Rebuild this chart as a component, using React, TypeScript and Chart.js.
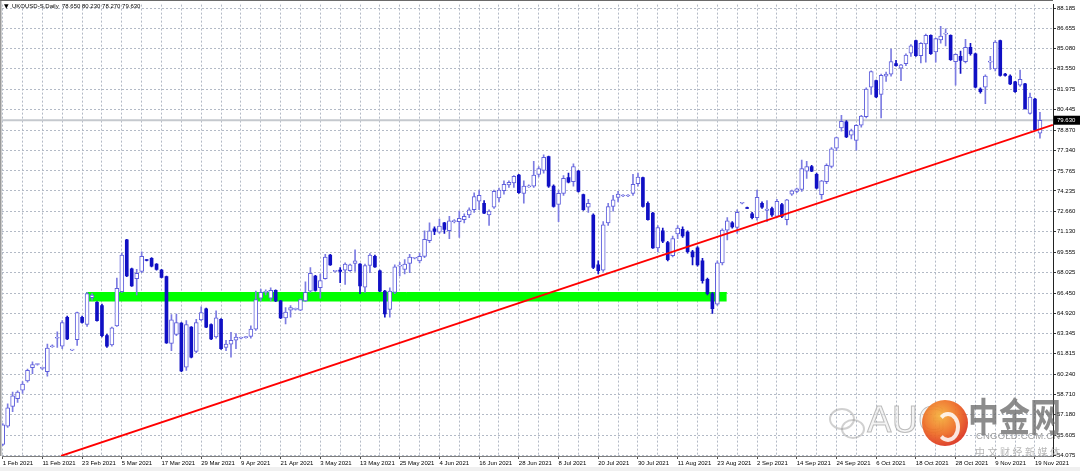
import React, { useEffect, useRef } from 'react';
import { Chart, registerables } from 'chart.js';

Chart.register(...registerables);

// ---- data (daily OHLC, bar 0 = 1 Feb 2021) ----
const opens: number[] = [
  54.9, 56.3, 57.8, 58.4, 59.05, 59.75, 60.75, 61.0, 60.7, 60.45,
  62.35, 63.0, 62.4, 64.6, 62.1, 62.9, 64.6, 64.05, 66.1, 65.75,
  65.5, 63.2, 62.5, 63.95, 66.55, 70.5, 68.3, 67.55, 68.1, 68.95,
  69.1, 68.65, 68.2, 67.7, 62.6, 63.3, 64.15, 60.8, 63.85, 62.0,
  64.4, 65.25, 64.05, 63.1, 64.45, 62.3, 62.55, 62.85, 63.0, 63.05,
  63.15, 63.7, 66.05, 66.5, 66.05, 66.65, 65.85, 64.55, 65.15, 65.2,
  65.15, 65.85, 66.6, 67.75, 66.85, 67.55, 69.35, 68.1, 68.2, 68.2,
  68.15, 68.7, 68.65, 66.9, 68.55, 69.25, 68.15, 66.6, 65.2, 66.5,
  68.5, 68.25, 68.7, 69.1, 68.9, 69.25, 70.45, 71.35, 71.1, 71.8,
  71.2, 71.9, 71.9, 72.05, 72.4, 72.8, 73.45, 73.3, 72.4, 73.0,
  73.7, 74.25, 74.7, 74.85, 75.45, 74.05, 74.55, 74.6, 75.5, 75.8,
  76.85, 74.6, 73.2, 74.05, 75.25, 74.95, 75.75, 73.95, 73.0, 72.4,
  68.6, 68.2, 71.8, 73.05, 73.75, 73.85, 73.85, 74.05, 74.8, 75.25,
  73.3, 72.55, 69.9, 71.2, 70.3, 69.3, 70.95, 71.3, 71.1, 69.6,
  69.9, 68.9, 67.5, 66.4, 65.6, 68.75, 71.25, 71.8, 71.45, 73.3,
  72.95, 72.5, 72.2, 73.3, 72.75, 72.9, 72.3, 73.2, 72.05, 74.0,
  74.2, 74.35, 75.75, 76.1, 75.5, 73.95, 74.95, 76.1, 77.5, 79.05,
  79.5, 78.5, 78.1, 79.25, 79.9, 82.15, 82.65, 81.6, 83.0, 83.15,
  83.95, 83.6, 83.95, 84.75, 85.7, 84.55, 85.45, 86.1, 84.85, 85.75,
  86.2, 86.1, 84.1, 84.5, 84.1, 85.2, 84.7, 82.0, 82.15, 84.05,
  83.55, 85.7, 83.15, 83.0, 82.55, 82.3, 82.4, 80.15, 81.25, 78.65,
];
const highs: number[] = [
  56.5, 58.0, 58.9, 59.0, 59.7, 60.65, 61.2, 61.05, 60.8, 62.55,
  62.5, 63.5, 64.35, 64.7, 62.15, 65.0, 64.7, 66.5, 66.4, 65.8,
  65.6, 63.3, 63.85, 67.6, 69.5, 70.55, 68.35, 68.25, 69.6, 69.0,
  69.15, 68.7, 68.25, 67.75, 64.8, 64.85, 64.2, 64.35, 63.9, 64.45,
  65.4, 65.3, 64.1, 65.1, 64.5, 62.85, 63.45, 63.35, 63.1, 63.15,
  63.95, 66.6, 66.75, 66.7, 66.85, 66.7, 65.9, 65.35, 65.5, 65.3,
  66.0, 67.3, 68.4, 67.8, 67.9, 69.4, 69.4, 68.15, 68.4, 68.75,
  68.65, 69.75, 68.7, 68.65, 69.45, 69.35, 68.2, 66.65, 66.85, 68.6,
  68.8, 69.0, 69.4, 69.15, 69.5, 71.2, 71.8, 71.5, 72.1, 71.85,
  72.3, 72.05, 72.7, 72.5, 72.95, 74.1, 74.3, 73.5, 72.8, 74.3,
  74.45, 75.0, 75.0, 75.4, 75.5, 75.0, 74.7, 76.5, 76.1, 77.0,
  76.9, 74.7, 74.3, 75.4, 75.6, 76.3, 75.8, 74.0, 73.6, 72.5,
  68.9, 71.9, 73.3, 73.9, 74.2, 73.95, 73.95, 75.5, 75.6, 75.3,
  73.4, 72.6, 71.6, 71.4, 70.4, 70.8, 71.6, 71.5, 71.2, 69.7,
  70.0, 69.1, 67.6, 66.5, 68.9, 71.35, 72.2, 71.9, 72.8, 73.35,
  73.0, 72.6, 74.3, 73.4, 73.5, 73.0, 73.6, 73.3, 73.6, 74.3,
  74.45, 76.6, 76.5, 76.2, 75.6, 75.05, 76.3, 77.55, 78.35, 80.0,
  79.6, 78.95, 79.3, 80.0, 82.1, 83.4, 82.7, 83.15, 83.3, 85.05,
  84.2, 83.9, 84.7, 85.4, 85.75, 85.55, 86.2, 86.15, 85.9, 86.8,
  86.6, 86.15, 84.7, 84.9, 85.8, 85.5, 84.75, 82.1, 83.1, 84.5,
  85.7, 85.75, 83.2, 83.1, 82.6, 83.45, 82.45, 81.7, 81.3, 80.23,
];
const lows: number[] = [
  54.8, 56.2, 57.4, 58.1, 58.8, 59.65, 60.3, 60.95, 60.6, 60.1,
  62.3, 62.3, 62.2, 62.9, 62.05, 62.45, 64.15, 63.9, 65.9, 64.3,
  63.1, 62.3, 62.4, 63.9, 66.5, 67.7, 66.95, 66.3, 68.0, 68.9,
  68.45, 68.2, 67.6, 62.6, 62.05, 63.2, 60.45, 60.55, 61.5, 61.9,
  64.35, 63.8, 62.9, 63.0, 62.15, 62.05, 61.55, 62.2, 62.95, 63.0,
  63.0, 63.6, 65.85, 66.3, 65.85, 65.8, 64.5, 64.1, 64.6, 65.15,
  65.1, 65.8, 66.5, 66.6, 66.05, 67.5, 68.55, 68.05, 67.25, 67.1,
  68.1, 68.1, 66.4, 66.5, 68.0, 68.4, 66.55, 64.6, 64.6, 66.4,
  67.75, 67.9, 68.0, 69.05, 68.75, 69.15, 70.3, 70.9, 71.0, 71.0,
  70.6, 71.8, 70.7, 71.8, 72.2, 72.6, 72.8, 72.5, 71.6, 72.9,
  73.4, 74.0, 74.5, 74.5, 74.05, 73.3, 74.5, 74.5, 75.3, 75.6,
  74.5, 73.0, 71.9, 73.9, 74.85, 74.6, 74.15, 72.75, 72.6, 68.3,
  67.9, 68.1, 71.6, 72.7, 73.4, 73.8, 73.8, 73.9, 74.6, 73.0,
  72.0, 69.85, 69.6, 70.3, 68.9, 69.2, 70.6, 70.7, 69.5, 68.6,
  68.5, 67.2, 66.3, 64.9, 65.5, 68.6, 70.5, 71.4, 71.0, 73.25,
  72.9, 72.1, 72.0, 72.9, 71.9, 72.3, 72.2, 72.2, 71.65, 73.9,
  74.1, 74.2, 75.2, 75.7, 74.4, 73.6, 74.8, 76.0, 77.3, 78.8,
  78.3, 78.2, 77.35, 79.1, 79.8, 81.6, 81.35, 79.8, 82.6, 83.0,
  83.75, 82.65, 83.8, 84.5, 84.5, 84.0, 84.05, 84.65, 84.05, 85.5,
  85.3, 84.2, 82.3, 83.2, 84.0, 84.6, 82.1, 81.7, 80.9, 83.5,
  83.4, 83.0, 83.0, 82.35, 81.75, 82.2, 80.5, 80.1, 78.85, 78.27,
];
const closes: number[] = [
  56.4, 57.7, 58.6, 58.9, 59.5, 60.55, 61.0, 61.0, 60.72, 62.25,
  62.4, 63.05, 64.2, 62.95, 62.12, 64.95, 64.2, 66.4, 66.3, 64.35,
  63.2, 62.4, 63.8, 66.8, 69.35, 67.75, 67.0, 67.95, 69.25, 68.93,
  68.5, 68.25, 67.65, 62.65, 64.4, 64.2, 60.5, 64.05, 61.55, 64.2,
  64.95, 63.85, 62.95, 64.55, 62.2, 62.55, 62.85, 63.1, 63.05, 63.1,
  63.7, 65.95, 66.5, 66.55, 66.65, 65.85, 64.55, 65.0, 65.35, 65.25,
  65.95, 66.5, 67.95, 66.65, 67.4, 69.2, 68.6, 68.13, 68.1, 68.65,
  68.6, 68.9, 67.0, 68.55, 69.35, 68.45, 66.6, 64.85, 66.6, 68.45,
  68.52, 68.65, 69.2, 69.1, 69.25, 70.55, 71.2, 71.15, 71.55, 71.3,
  71.95, 71.92, 72.15, 72.3, 72.8, 73.8, 73.9, 72.55, 72.7, 74.2,
  74.3, 74.75, 74.9, 75.35, 74.1, 74.6, 74.6, 75.45, 75.95, 76.8,
  74.6, 73.05, 74.05, 75.2, 74.9, 76.1, 74.2, 72.8, 73.3, 68.4,
  68.15, 71.65, 73.05, 73.55, 74.0, 73.87, 73.9, 74.75, 75.3, 73.05,
  72.05, 69.9, 71.45, 70.4, 69.0, 70.6, 71.4, 70.8, 69.6, 69.2,
  68.6, 67.4, 66.4, 65.25, 68.75, 71.25, 71.95, 71.5, 72.6, 73.3,
  72.9, 72.2, 73.75, 73.0, 72.85, 72.4, 73.45, 72.3, 73.55, 74.25,
  74.4, 75.95, 76.1, 75.75, 74.45, 75.0, 76.2, 77.45, 78.3, 79.55,
  78.35, 78.85, 79.25, 79.95, 82.0, 83.35, 81.4, 83.05, 83.15, 84.1,
  83.8, 83.85, 84.6, 85.3, 84.55, 85.5, 86.1, 84.7, 85.85, 86.05,
  86.2, 84.25, 84.65, 84.2, 85.2, 84.7, 82.15, 81.8, 83.0, 84.15,
  85.6, 83.05, 83.05, 82.4, 81.8, 82.75, 80.5, 81.4, 78.9, 79.63,
];

const dateLabels: string[] = [
  '1 Feb 2021', '11 Feb 2021', '23 Feb 2021', '5 Mar 2021', '17 Mar 2021',
  '29 Mar 2021', '9 Apr 2021', '21 Apr 2021', '3 May 2021', '13 May 2021',
  '25 May 2021', '4 Jun 2021', '16 Jun 2021', '28 Jun 2021', '8 Jul 2021',
  '20 Jul 2021', '30 Jul 2021', '11 Aug 2021', '23 Aug 2021', '2 Sep 2021',
  '14 Sep 2021', '24 Sep 2021', '6 Oct 2021', '18 Oct 2021', '28 Oct 2021',
  '9 Nov 2021', '19 Nov 2021',
];
const priceTicks: number[] = [
  88.185, 86.655, 85.08, 83.55, 81.975, 80.445, 78.87, 77.34, 75.765, 74.235,
  72.66, 71.13, 69.555, 68.025, 66.45, 64.92, 63.345, 61.815, 60.24, 58.71,
  57.18, 55.605, 54.075,
];
const trendTime: number[] = [11.75, 211.6];
const trendPrice: number[] = [54.03, 79.28];
const zoneTime: number[] = [16.8, 145.9];
const zonePrice: number[] = [65.81, 66.49];
const symbolTitle = 'UKOUSD-S,Daily';

const BULL_EDGE = '#5f5fdc';
const BULL_WICK = '#7c7ce2';
const BEAR = '#1010c4';
const GRID = '#b3bac6';
const FONT = "'Liberation Sans', Arial, sans-serif";

export default function App() {
  const canvasRef = useRef<HTMLCanvasElement | null>(null);

  useEffect(() => {
    const canvas = canvasRef.current;
    if (!canvas) return;
    const last = closes.length - 1;
    const isBull = (i: number) => closes[i] >= opens[i];
    const idx = closes.map((_, i) => i);

    const wickData = idx.map((i) => ({ x: i, y: [lows[i], highs[i]] }));
    const wickColors = idx.map((i) => (isBull(i) ? BULL_WICK : BEAR));
    const bullData = idx.filter(isBull).map((i) => ({ x: i, y: [opens[i], closes[i]] }));
    const bearData = idx.filter((i) => !isBull(i)).map((i) => ({ x: i, y: [closes[i], opens[i]] }));

    const fmt = (v: number) => v.toFixed(3);

    const decor = {
      id: 'decor',
      beforeDraw(chart: any) {
        const c = chart.ctx;
        c.save();
        c.fillStyle = '#ffffff';
        c.fillRect(0, 0, chart.width, chart.height);
        c.fillStyle = '#f0f0f0';
        c.fillRect(0, 467, chart.width, chart.height - 467);
        c.restore();
      },
      afterDraw(chart: any) {
        const c = chart.ctx;
        const y = chart.scales.y;
        const area = chart.chartArea;
        c.save();
        c.fillStyle = '#9a9a9a';
        c.fillRect(0, 0, 1.5, area.bottom);
        c.fillStyle = '#6a6a6a';
        c.fillRect(0, 0, area.right, 1);
        c.fillStyle = '#000';
        c.textBaseline = 'middle';
        c.font = `6px 'DejaVu Sans'`;
        c.fillText('▼', 4, 6.5);
        c.font = `6px ${FONT}`;
        c.fillText(
          `${symbolTitle}  ${fmt(opens[last])} ${fmt(highs[last])} ${fmt(lows[last])} ${fmt(closes[last])}`,
          12, 6.5,
        );
        const py = y.getPixelForValue(closes[last]);
        c.fillStyle = '#000';
        c.fillRect(area.right + 1, py - 4.5, 26, 9);
        c.fillStyle = '#fff';
        c.fillText(fmt(closes[last]), area.right + 4, py + 0.5);
        c.restore();
      },
    };

    const chart = new Chart(canvas, {
      type: 'bar',
      data: {
        datasets: [
          {
            type: 'line',
            label: 'zone',
            data: [
              { x: zoneTime[0], y: zonePrice[1] },
              { x: zoneTime[1], y: zonePrice[1] },
            ],
            borderColor: '#00ff00',
            borderWidth: 1,
            backgroundColor: '#00ff00',
            pointRadius: 0,
            fill: { value: zonePrice[0] },
            order: 5,
          } as any,
          {
            type: 'line',
            label: 'bid',
            data: [
              { x: -2, y: closes[last] },
              { x: 215, y: closes[last] },
            ],
            borderColor: '#c5c9ce',
            borderWidth: 2,
            pointRadius: 0,
            fill: false,
            order: 4,
          } as any,
          {
            label: 'wick',
            data: wickData as any,
            backgroundColor: wickColors,
            barThickness: 1,
            grouped: false,
            borderWidth: 0,
            order: 3,
          } as any,
          {
            label: 'bull',
            data: bullData as any,
            backgroundColor: '#ffffff',
            borderColor: BULL_EDGE,
            borderWidth: 1,
            borderSkipped: false,
            barThickness: 4,
            minBarLength: 1,
            grouped: false,
            order: 2,
          } as any,
          {
            label: 'bear',
            data: bearData as any,
            backgroundColor: BEAR,
            borderWidth: 0,
            barThickness: 3,
            minBarLength: 1,
            grouped: false,
            order: 2,
          } as any,
          {
            type: 'line',
            label: 'trend',
            data: [
              { x: trendTime[0], y: trendPrice[0] },
              { x: trendTime[1], y: trendPrice[1] },
            ],
            borderColor: '#ff0000',
            borderWidth: 2,
            pointRadius: 0,
            fill: false,
            order: 0,
          } as any,
        ],
      },
      options: {
        responsive: false,
        maintainAspectRatio: false,
        animation: false,
        events: [],
        layout: { padding: { left: 2, top: 2, right: 0, bottom: 0 } },
        plugins: { legend: { display: false }, tooltip: { enabled: false } },
        scales: {
          x: {
            type: 'linear',
            min: -0.141,
            max: 211.63,
            offset: false,
            afterBuildTicks: (s: any) => {
              const t = [];
              for (let v = 0; v <= 208; v += 4) t.push({ value: v });
              s.ticks = t;
            },
            afterFit: (s: any) => {
              s.height = 15;
            },
            grid: {
              color: GRID,
              lineWidth: 1,
              offset: false,
              drawTicks: true,
              tickLength: 3,
              tickWidth: 1,
              tickColor: (ctx: any) =>
                ctx.tick && ctx.tick.value % 8 === 0 ? '#555' : 'rgba(0,0,0,0)',
            },
            border: { display: true, color: '#808080', width: 1, dash: [2, 2] },
            ticks: {
              autoSkip: false,
              maxRotation: 0,
              minRotation: 0,
              align: 'start',
              padding: 1,
              color: '#000',
              font: { family: FONT, size: 6 },
              callback: (v: any) => (v % 8 === 0 ? dateLabels[v / 8] ?? '' : ''),
            },
          },
          y: {
            type: 'linear',
            position: 'right',
            min: 54.02,
            max: 88.45,
            beginAtZero: false,
            afterBuildTicks: (s: any) => {
              s.ticks = priceTicks.map((v) => ({ value: v }));
            },
            afterFit: (s: any) => {
              s.width = 27;
            },
            grid: {
              color: GRID,
              lineWidth: 1,
              drawTicks: true,
              tickLength: 3,
              tickWidth: 1,
              tickColor: '#333',
            },
            border: { display: true, color: '#222', width: 1, dash: [2, 2] },
            ticks: {
              autoSkip: false,
              padding: 1,
              color: '#000',
              font: { family: FONT, size: 6 },
              callback: (v: any) => Number(v).toFixed(3),
            },
          },
        },
      } as any,
      plugins: [decor as any],
    });

    return () => chart.destroy();
  }, []);

  const wm: React.CSSProperties = { position: 'absolute', whiteSpace: 'nowrap', pointerEvents: 'none' };

  return (
    <div style={{ position: 'fixed', left: 0, top: 0, width: 1080, height: 471, background: '#fff', overflow: 'hidden' }}>
      <canvas ref={canvasRef} width={1080} height={471} style={{ display: 'block', width: 1080, height: 471 }} />
      {/* watermark */}
      <div style={{ ...wm, left: 829, top: 408, width: 22, height: 18, border: '2px solid rgba(150,150,150,0.45)', borderRadius: '50%' }} />
      <div style={{ ...wm, left: 841, top: 419, width: 20, height: 16, border: '2px solid rgba(150,150,150,0.45)', borderRadius: '50%' }} />
      <div style={{ ...wm, left: 867, top: 400, fontFamily: "'DejaVu Sans', sans-serif", fontSize: 36, lineHeight: '40px', color: 'rgba(235,235,235,0.55)', WebkitTextStroke: '1px rgba(140,140,140,0.55)' } as any}>AUG</div>
      <div style={{ ...wm, left: 922, top: 400, width: 46, height: 46, borderRadius: '50%', background: 'radial-gradient(circle at 40% 35%, #f6b23a 0%, #ee6a22 45%, #d8281c 80%)', opacity: 0.92 }} />
      <div style={{ ...wm, left: 936, top: 412, width: 16, height: 22, borderRadius: '50%', border: '4px solid rgba(255,255,255,0.85)', borderLeftColor: 'transparent' }} />
      <div style={{ ...wm, left: 968, top: 395, fontFamily: "'Noto Sans CJK SC', sans-serif", fontWeight: 700, fontSize: 31, lineHeight: '31px', color: 'rgba(95,95,95,0.72)', transform: 'scaleY(1.25)', transformOrigin: 'top left' }}>中金网</div>
      <div style={{ ...wm, left: 976, top: 430, fontFamily: FONT, fontSize: 9.5, lineHeight: '11px', color: 'rgba(140,140,140,0.85)', letterSpacing: 0.2 }}>CNGOLD.COM.CN</div>
      <div style={{ ...wm, left: 975, top: 446, fontFamily: "'Noto Sans CJK SC', sans-serif", fontSize: 10, lineHeight: '12px', color: 'rgba(165,165,165,0.8)', letterSpacing: 2.5 }}>中文财经新媒体</div>
    </div>
  );
}
